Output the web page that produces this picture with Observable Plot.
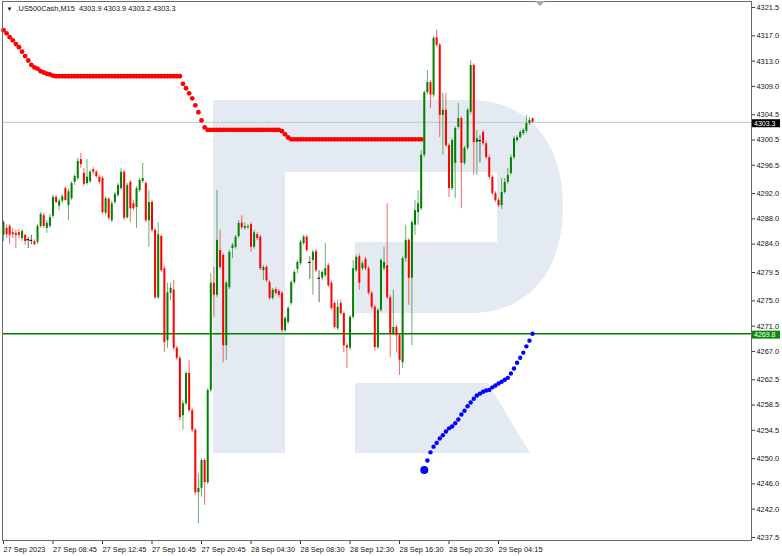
<!DOCTYPE html>
<html><head><meta charset="utf-8">
<script src="https://cdn.jsdelivr.net/npm/d3@7"></script>
<script src="https://cdn.jsdelivr.net/npm/@observablehq/plot@0.6"></script>
<style>
html,body{margin:0;padding:0;background:#fff;}
#chart svg{display:block;}
</style></head><body>
<div id="chart"></div>
<script>
const title = ".US500Cash,M15  4303.9 4303.9 4303.2 4303.3";
const opens = [
4285.4,4286.5,4286.8,4285.8,4285.7,4285.8,4284.9,4285.4,4284.7,4284.6,
4284.4,4284.3,4286.8,4288.5,4286.5,4286.8,4288.4,4291.4,4290.0,4290.8,
4292.8,4290.1,4291.2,4293.8,4294.4,4297.4,4295.2,4293.6,4293.9,4295.8,
4295.4,4294.6,4294.4,4288.9,4291.1,4287.7,4290.6,4291.7,4292.8,4295.4,
4288.2,4293.8,4290.4,4289.8,4292.5,4293.9,4293.6,4287.7,4290.6,4286.2,
4275.5,4285.2,4280.1,4268.7,4276.2,4276.7,4267.5,4265.9,4256.8,4258.7,
4263.5,4257.6,4254.5,4244.6,4245.3,4249.7,4246.2,4260.8,4277.8,4275.9,
4283.0,4282.2,4267.9,4277.1,4283.3,4283.5,4285.2,4287.3,4286.5,4286.6,
4287.1,4283.5,4285.5,4285.1,4279.8,4280.3,4277.9,4275.4,4276.8,4276.5,
4276.2,4270.3,4271.6,4274.6,4277.9,4280.0,4280.9,4284.1,4285.1,4281.1,
4281.4,4282.8,4278.6,4278.6,4279.0,4280.6,4277.8,4274.6,4270.6,4274.6,
4273.0,4267.9,4267.5,4272.4,4279.8,4282.0,4280.1,4281.6,4280.1,4276.2,
4274.0,4267.6,4273.5,4280.1,4280.6,4275.5,4269.8,4270.8,4269.5,4265.2,
4281.7,4284.6,4278.6,4287.0,4289.0,4289.6,4298.1,4308.0,4309.6,4307.6,
4316.7,4315.5,4304.4,4305.2,4299.6,4292.8,4296.8,4302.5,4303.9,4296.8,
4299.2,4304.9,4312.3,4300.1,4300.4,4301.7,4299.9,4297.7,4294.6,4292.0,
4290.9,4290.1,4292.2,4293.8,4295.2,4297.7,4300.4,4300.9,4301.5,4301.9,
4303.1,4303.9];
const highs = [
4287.7,4287.0,4287.1,4286.5,4286.2,4286.3,4286.3,4285.5,4285.1,4285.4,
4284.7,4287.1,4289.0,4288.9,4287.7,4288.7,4291.7,4291.7,4291.1,4291.9,
4293.1,4292.7,4293.9,4295.0,4297.6,4298.4,4296.0,4297.4,4295.7,4296.1,
4295.7,4294.9,4294.7,4291.5,4291.4,4290.8,4292.2,4293.6,4296.0,4295.7,
4293.6,4294.1,4290.9,4293.1,4294.4,4296.8,4293.9,4292.5,4290.9,4286.5,
4287.4,4285.5,4280.5,4277.8,4277.8,4278.2,4267.8,4266.2,4259.2,4263.8,
4265.6,4258.0,4254.8,4247.6,4250.0,4250.0,4261.1,4279.3,4280.3,4292.5,
4286.2,4282.5,4278.1,4283.0,4284.1,4285.4,4287.7,4288.5,4287.4,4287.1,
4287.4,4286.2,4285.8,4285.4,4280.6,4280.6,4278.2,4277.0,4277.1,4276.8,
4276.5,4272.5,4274.1,4278.2,4279.8,4281.4,4284.6,4285.4,4285.4,4282.0,
4283.0,4283.2,4279.8,4279.8,4284.1,4280.9,4278.1,4274.9,4275.1,4275.1,
4273.3,4268.2,4272.7,4281.4,4282.2,4282.4,4281.3,4281.9,4280.5,4276.5,
4274.3,4273.8,4281.7,4283.5,4290.4,4275.9,4276.7,4271.1,4269.8,4282.0,
4287.0,4284.9,4287.7,4290.9,4292.5,4298.8,4308.3,4311.5,4309.9,4316.9,
4317.9,4315.8,4307.9,4307.9,4299.9,4300.7,4302.6,4306.3,4304.2,4299.5,
4305.5,4313.1,4312.6,4302.0,4301.2,4302.0,4300.3,4298.1,4294.9,4292.3,
4291.2,4294.4,4294.4,4296.0,4298.1,4301.1,4301.2,4302.0,4302.3,4304.4,
4304.1,4303.9];
const lows = [
4284.4,4284.9,4283.9,4284.9,4283.3,4284.9,4284.4,4283.8,4283.3,4283.9,
4283.8,4283.9,4286.5,4286.5,4285.7,4286.5,4288.1,4290.4,4289.3,4290.4,
4290.8,4287.7,4290.9,4293.3,4294.1,4296.0,4293.1,4293.3,4293.6,4295.0,
4294.4,4293.5,4288.7,4288.5,4287.7,4287.4,4290.3,4291.4,4292.5,4287.7,
4287.9,4287.4,4289.3,4286.5,4292.2,4293.6,4287.4,4283.5,4285.8,4275.2,
4275.2,4279.5,4266.8,4267.5,4275.1,4267.1,4265.6,4256.0,4254.5,4258.4,
4257.3,4254.1,4244.2,4239.7,4243.9,4242.6,4245.9,4260.5,4272.4,4275.5,
4280.0,4265.2,4265.6,4276.8,4281.7,4283.2,4284.9,4286.3,4286.2,4286.3,
4282.7,4283.2,4284.6,4279.8,4278.2,4277.9,4275.1,4275.1,4275.9,4275.5,
4270.0,4270.0,4271.2,4274.3,4277.6,4279.3,4280.6,4283.8,4282.7,4278.4,
4275.9,4279.5,4274.7,4278.2,4278.7,4277.1,4273.5,4270.5,4270.3,4272.7,
4266.8,4264.3,4267.1,4272.1,4279.5,4276.7,4279.8,4279.8,4275.9,4273.6,
4267.1,4267.3,4273.2,4279.8,4275.2,4266.0,4269.5,4266.7,4263.2,4264.3,
4281.1,4274.3,4267.9,4285.4,4287.0,4289.3,4297.7,4307.7,4305.5,4307.2,
4315.2,4300.9,4298.1,4299.3,4291.4,4292.5,4291.2,4302.2,4289.6,4296.5,
4298.8,4304.5,4294.9,4294.9,4296.9,4299.6,4297.4,4294.2,4291.7,4290.6,
4289.8,4289.5,4291.9,4293.5,4294.9,4297.4,4300.1,4300.6,4301.2,4301.5,
4302.8,4303.2];
const closes = [
4287.4,4285.5,4285.4,4285.5,4285.4,4285.4,4286.0,4284.4,4284.7,4284.6,
4283.9,4286.8,4288.7,4286.8,4287.3,4288.2,4291.4,4290.6,4290.8,4291.5,
4290.9,4292.3,4293.6,4294.7,4297.1,4296.6,4293.5,4294.6,4295.4,4295.4,
4294.7,4293.8,4289.0,4291.2,4288.1,4290.4,4291.9,4293.3,4295.4,4288.1,
4293.3,4289.6,4289.6,4292.8,4294.1,4294.4,4287.7,4290.6,4286.2,4275.5,
4285.5,4279.8,4268.4,4276.3,4277.0,4267.5,4265.9,4256.5,4258.7,4263.5,
4257.6,4254.5,4244.6,4245.3,4249.7,4246.2,4260.8,4277.8,4275.9,4284.6,
4280.3,4267.9,4277.8,4282.7,4283.8,4285.1,4287.3,4286.6,4286.8,4286.8,
4283.5,4285.8,4284.9,4280.1,4280.3,4278.2,4275.4,4276.7,4276.2,4275.9,
4270.3,4272.2,4273.8,4277.9,4279.5,4281.1,4284.3,4285.1,4283.0,4281.1,
4282.7,4279.8,4278.6,4279.5,4280.1,4277.4,4273.8,4270.8,4274.0,4273.0,
4267.9,4267.5,4272.4,4280.1,4281.9,4277.8,4280.9,4280.1,4276.2,4274.0,
4267.6,4273.5,4281.4,4281.1,4275.5,4269.8,4270.8,4269.5,4265.6,4281.7,
4284.6,4278.6,4287.4,4289.3,4290.4,4298.1,4308.0,4309.6,4307.6,4316.6,
4315.5,4304.4,4305.2,4299.6,4292.8,4300.4,4302.3,4303.9,4296.8,4299.2,
4305.2,4312.3,4300.1,4300.7,4300.4,4299.9,4297.7,4294.6,4292.0,4290.9,
4290.1,4292.2,4293.8,4294.9,4297.7,4300.7,4300.9,4301.7,4302.0,4303.1,
4303.6,4303.3];
// red trailing dots, bars 0..135
const redStart = 0;
const redLevels = [
4317.9,4317.4,4316.8,4316.3,4315.7,4315.2,4314.5,4313.8,4313.1,4312.4,
4312.0,4311.8,4311.4,4311.2,4311.0,4310.9,4310.7,4310.6,
4310.6,4310.6,4310.6,4310.6,4310.6,4310.6,4310.6,4310.6,4310.6,4310.6,
4310.6,4310.6,4310.6,4310.6,4310.6,4310.6,4310.6,4310.6,4310.6,4310.6,
4310.6,4310.6,4310.6,4310.6,4310.6,4310.6,4310.6,4310.6,4310.6,4310.6,
4310.6,4310.6,4310.6,4310.6,4310.6,4310.6,4310.6,4310.6,4310.6,4310.6,
4309.4,4308.7,4307.9,4307.1,4306.0,4304.9,4303.6,4302.5,
4302.1,4302.1,4302.1,4302.1,4302.1,4302.1,4302.1,4302.1,4302.1,4302.1,
4302.1,4302.1,4302.1,4302.1,4302.1,4302.1,4302.1,4302.1,4302.1,4302.1,
4302.1,4302.1,4302.1,4302.1,
4301.9,4301.4,4300.9,
4300.6,4300.6,4300.6,4300.6,4300.6,4300.6,4300.6,4300.6,4300.6,4300.6,
4300.6,4300.6,4300.6,4300.6,4300.6,4300.6,4300.6,4300.6,4300.6,4300.6,
4300.6,4300.6,4300.6,4300.6,4300.6,4300.6,4300.6,4300.6,4300.6,4300.6,
4300.6,4300.6,4300.6,4300.6,4300.6,4300.6,4300.6,4300.6,4300.6,4300.6,
4300.6,4300.6,4300.6];
// blue trailing dots, bars 136..171
const blueStart = 136;
const blueLevels = [
4248.2,4249.7,4251.0,4251.9,4252.5,4253.2,4253.7,4254.3,4254.8,4255.1,
4255.6,4256.2,4257.0,4257.6,4258.3,4258.9,4259.5,4260.0,4260.3,4260.6,
4260.8,4260.9,4261.3,4261.6,4261.9,4262.2,4262.5,4262.8,4263.5,4264.3,
4265.2,4266.0,4266.8,4267.8,4268.7,4269.8];
const xTickBars = [0,16,32,48,64,80,96,112,128,144,160];
const xTickLabels = ["27 Sep 2023","27 Sep 08:45","27 Sep 12:45","27 Sep 16:45","27 Sep 20:45","28 Sep 04:30","28 Sep 08:30","28 Sep 12:30","28 Sep 16:30","28 Sep 20:30","29 Sep 04:15"];
const yTicks = [4321.5,4317.0,4313.0,4309.0,4304.5,4300.5,4296.5,4292.0,4288.0,4284.0,4279.5,4275.0,4271.0,4267.0,4262.5,4258.5,4254.5,4250.0,4246.0,4242.0,4237.5];
const currentPrice = 4303.3;
const levelPrice = 4269.8;

const GREEN = "#008000", RED = "#ff0000";
const bars = opens.map((o, i) => ({i, o, h: highs[i], l: lows[i], c: closes[i]}));
const col = d => d.c > d.o ? GREEN : d.c < d.o ? RED : "#000";
const redDots = redLevels.map((v, k) => ({i: redStart + k, v}));
const blueDots = blueLevels.map((v, k) => ({i: blueStart + k, v}));
const labelMap = new Map(xTickBars.map((b, k) => [b, xTickLabels[k]]));
const FONT = "'Liberation Sans', Arial, sans-serif";

const plot = Plot.plot({
  width: 782, height: 556,
  marginLeft: 2, marginRight: 31, marginTop: 1, marginBottom: 16,
  style: {fontFamily: FONT, fontSize: "7.4px", background: "transparent", color: "#111"},
  x: {type: "linear", domain: [-0.323, 241.76], label: null},
  y: {domain: [4237.03, 4322.45], label: null},
  marks: [
    Plot.ruleY([currentPrice], {stroke: "#c4c4c4", strokeWidth: 1}),
    Plot.ruleY([levelPrice], {stroke: GREEN, strokeWidth: 1.6}),
    Plot.ruleX(bars, {x: "i", y1: "l", y2: "h", stroke: col, strokeOpacity: 0.6, strokeWidth: 1}),
    Plot.ruleX(bars.filter(d => d.o !== d.c), {x: "i", y1: "o", y2: "c", stroke: col, strokeWidth: 2}),
    Plot.ruleY(bars.filter(d => d.o === d.c), {y: "o", x1: d => d.i - 0.45, x2: d => d.i + 0.45, stroke: "#000"}),
    Plot.dot(redDots, {x: "i", y: "v", r: 2.4, fill: RED, stroke: null}),
    Plot.dot(blueDots, {x: "i", y: "v", r: 2.2, fill: "#0000ff", stroke: null}),
    Plot.dot(blueDots.slice(0, 1), {x: "i", y: "v", r: 4, fill: "#0000ff", stroke: null}),
    Plot.axisY(yTicks, {anchor: "right", label: null, tickSize: 3, tickPadding: 2, tickFormat: d => d.toFixed(1), stroke: "#333", fill: "#111"}),
    Plot.axisX(xTickBars, {anchor: "bottom", label: null, tickSize: 4, tickPadding: 2, tickFormat: d => labelMap.get(d), textAnchor: "start", stroke: "#333", fill: "#111"}),
    Plot.frame({stroke: "#6a6a6a"}),
    Plot.text(["▼"], {frameAnchor: "top-left", dx: 4, dy: 5, fontSize: 6, fill: "#000"}),
    Plot.text([title], {frameAnchor: "top-left", dx: 14, dy: 4, fill: "#111", textAnchor: "start"})
  ]
});
document.getElementById("chart").append(plot);

// watermark logo (decoration) and price tags
const svg = d3.select(plot);
const logo = svg.insert("g", ":first-child").attr("fill", "#e4eaf2");
logo.append("rect").attr("x", 213).attr("y", 100).attr("width", 72).attr("height", 353);
logo.append("path").attr("d", "M285,100 H470 C528,100 563,142 563,206 C563,272 528,313 470,313 H355 V242 H497 V172 H285 Z");
logo.append("path").attr("d", "M355,383 H488 L530,453 H355 Z");

const yS = plot.scale("y");
[[currentPrice, "#000"], [levelPrice, "#0a8a0a"]].forEach(([p, c]) => {
  const y = yS.apply(p);
  svg.append("rect").attr("x", 752).attr("y", y - 2.6).attr("width", 28).attr("height", 8).attr("fill", c);
  svg.append("text").attr("x", 754).attr("y", y + 3.9).attr("fill", "#fff").attr("text-anchor", "start")
    .attr("font-family", FONT).attr("font-size", "7px").text(p.toFixed(1));
});
svg.append("path").attr("d", "M535,1 L545,1 L540,6 Z").attr("fill", "#a8a8a8");
</script>
</body></html>
